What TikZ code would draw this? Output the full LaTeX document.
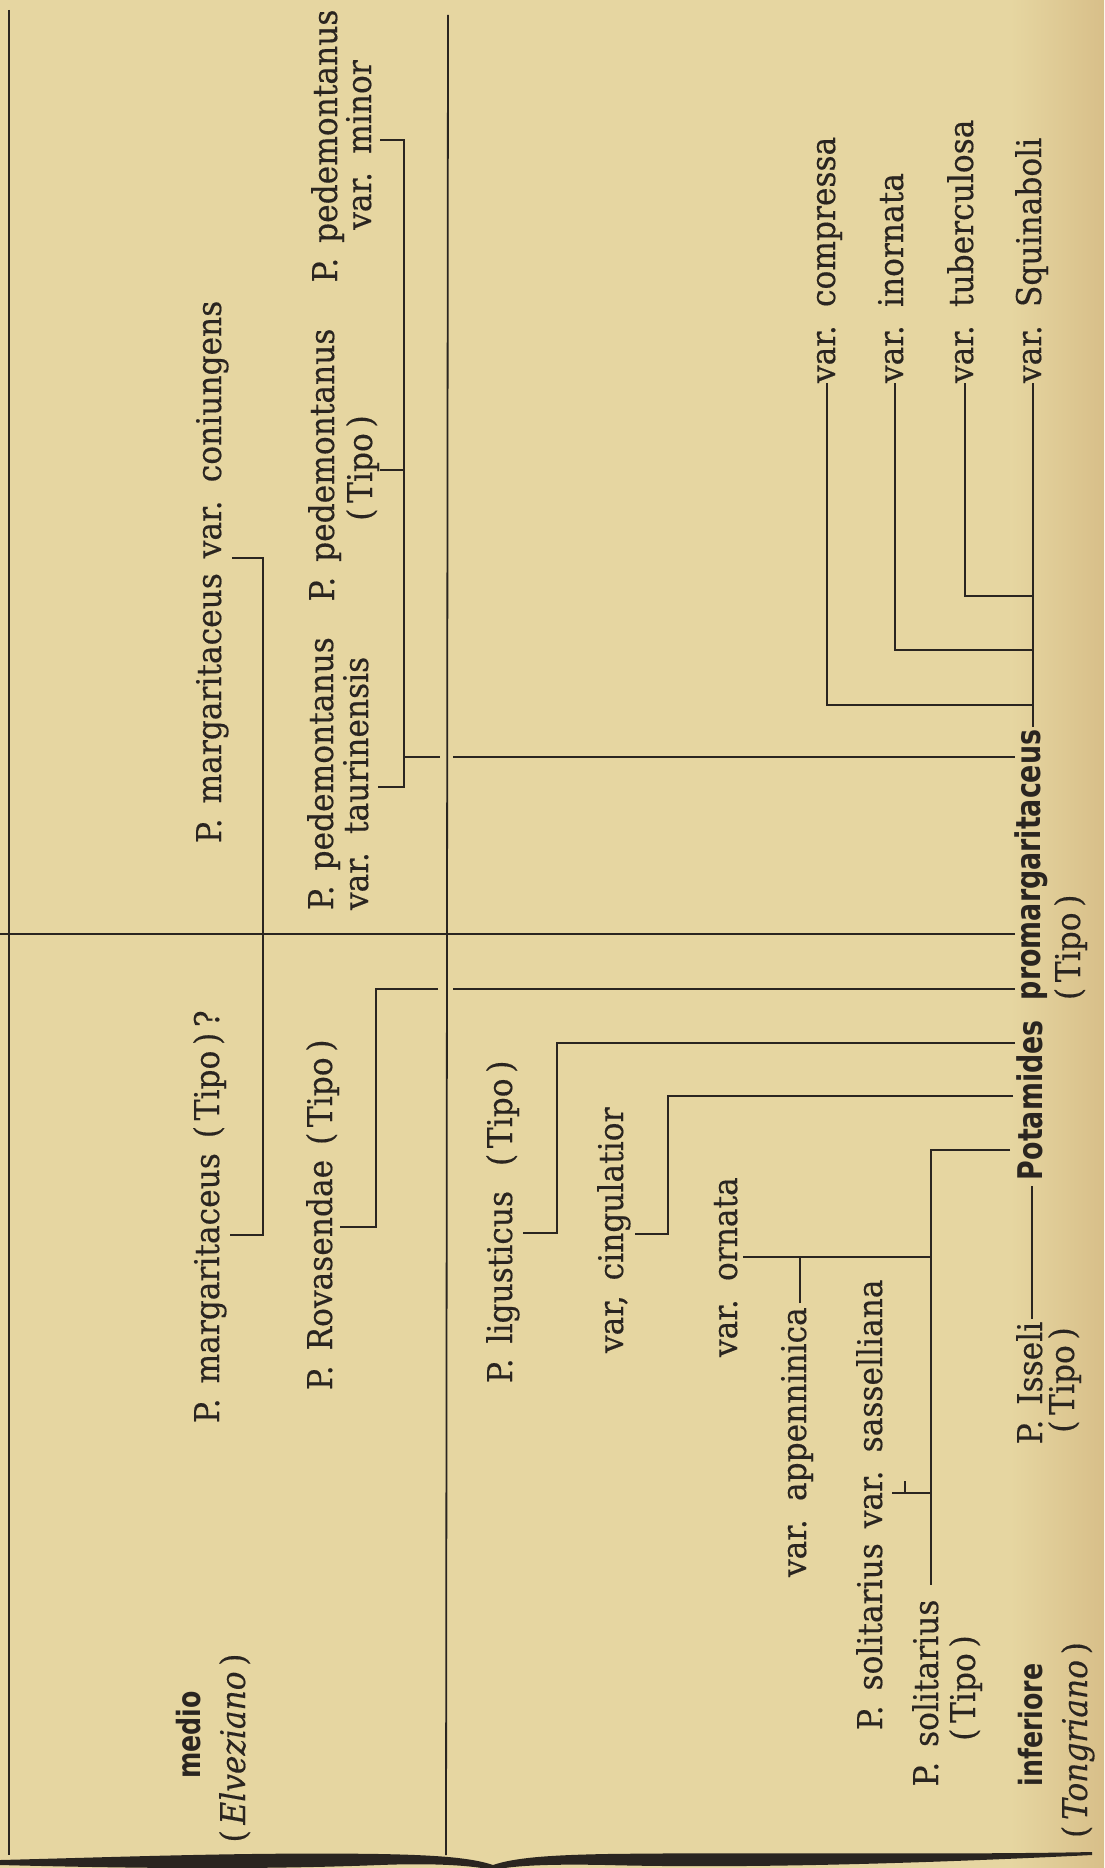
\documentclass[tikz,border=0pt]{standalone}
\usepackage{fontspec}
\setmainfont{DejaVu Serif}[FakeStretch=0.92, WordSpace=1.5, FakeBold=0.35]
\newfontfamily\boldsans{DejaVu Sans}[FakeStretch=0.79]
\usetikzlibrary{calc}
\definecolor{bgc}{HTML}{E6D6A1}
\definecolor{bgd}{HTML}{D8BF89}
\definecolor{ink}{HTML}{2A2520}
\tikzset{
  lbl/.style={rotate=90, inner sep=0pt, outer sep=0pt, text=ink, font=\fontsize{17}{20}\selectfont},
  bld/.style={lbl, font=\boldsans\bfseries\fontsize{17}{20}\selectfont},
  bldsm/.style={lbl, font=\boldsans\bfseries\fontsize{16}{19}\selectfont},
  ln/.style={draw=ink, line width=0.9pt},
}
\begin{document}
\begin{tikzpicture}[x=0.5pt,y=-0.5pt]
\useasboundingbox (0,0) rectangle (1104,1868);
\fill[bgc] (0,0) rectangle (1104,1868);
\shade[left color=bgc, right color=bgd] (1010,0) rectangle (1104,1868);

% ---- labels ----
\node[lbl, anchor=base west] (coni) at (221,843) {P. margaritaceus var. coniungens};
\node[lbl, anchor=base west] (margT) at (219,1423) {P. margaritaceus (\,Tipo\,)\,?};
\node[lbl, anchor=base west] (rova) at (332,1390) {P. Rovasendae (\,Tipo\,)};
\node[lbl, anchor=base west] (pedT1) at (333,910) {P. pedemontanus};
\node[lbl, anchor=base west] (pedT2) at (368,910) {var. taurinensis};
\node[lbl, anchor=base] (pedP1) at (334,465) {P. pedemontanus};
\node[lbl, anchor=base] (pedP2) at (372,468) {(\,Tipo\,)};
\node[lbl, anchor=base] (pedM1) at (337,146) {P. pedemontanus};
\node[lbl, anchor=base] (pedM2) at (371,145) {var. minor};
\node[lbl, anchor=base west] (ligu) at (512,1383) {P. ligusticus\hspace{5pt} (\,Tipo\,)};
\node[lbl, anchor=base west] (cing) at (623,1353) {var, cingulatior};
\node[lbl, anchor=base west] (orna) at (737,1357) {var. ornata};
\node[lbl, anchor=base west] (appe) at (806,1577) {var. appenninica};
\node[lbl, anchor=base west] (sass) at (882,1730) {P. solitarius var. sasselliana};
\node[lbl, anchor=base] (soli1) at (938,1693) {P. solitarius};
\node[lbl, anchor=base] (soli2) at (975,1688) {(\,Tipo\,)};
\node[lbl, anchor=base] (isse1) at (1042,1383) {P. Isseli};
\node[lbl, anchor=base] (isse2) at (1074,1380) {(\,Tipo\,)};
\node[bld, anchor=base west] (pota) at (1042,1180) {Potamides};
\node[bld, anchor=base west] (prom) at (1040,1000) {promargaritaceus};
\node[lbl, anchor=base west] (promT) at (1080,1000) {(\,Tipo\,)};
\node[lbl, anchor=base west] (comp) at (835,383) {var. compressa};
\node[lbl, anchor=base west] (inor) at (903,383) {var. inornata};
\node[lbl, anchor=base west] (tube) at (973,383) {var. tuberculosa};
\node[lbl, anchor=base west] (squi) at (1041,383) {var. Squinaboli};
\node[bldsm, anchor=base] (medio) at (200,1735) {medio};
\node[lbl, anchor=base] (elve) at (245,1748) {(\,\textit{Elveziano}\,)};
\node[bldsm, anchor=base] (infe) at (1042,1725) {inferiore};
\node[lbl, anchor=base] (tong) at (1087,1740) {(\,\textit{Tongriano}\,)};

% ---- rules ----
\coordinate (bdT) at (9,10);   \coordinate (bdB) at (9,1855);
\coordinate (l2T) at (448,15); \coordinate (l2B) at (446,1855);
\draw[ln] (bdT) -- (bdB);
\draw[ln] (l2T) -- (l2B);
\coordinate (h1L) at (0,934);  \coordinate (h1R) at (1015,934);
\draw[ln] (h1L) -- (h1R);

% margaritaceus bracket
\coordinate (mgTopT) at (232,558); \coordinate (mgTop) at (263,558);
\coordinate (mgBot) at (263,1235); \coordinate (mgBotT) at (230,1235);
\draw[ln] (mgTopT) -- (mgTop) -- (mgBot) -- (mgBotT);

% pedemontanus bracket
\coordinate (pbTopT) at (380,140); \coordinate (pbTop) at (404,140);
\coordinate (pbMidT) at (380,470); \coordinate (pbMid) at (404,470);
\coordinate (pbBot) at (404,787);  \coordinate (pbBotT) at (378,787);
\coordinate (pbJ) at (404,757); \coordinate (pbJa) at (440,757);
\coordinate (pbJb) at (453,757); \coordinate (pbR) at (1015,757);
\draw[ln] (pbTopT) -- (pbTop) -- (pbBot) -- (pbBotT);
\draw[ln] (pbMidT) -- (pbMid);
\draw[ln] (pbJ) -- (pbJa);
\draw[ln] (pbJb) -- (pbR);

% Rovasendae bracket
\coordinate (rbTop) at (376,989); \coordinate (rbBot) at (376,1227);
\coordinate (rbBotT) at (340,1227); \coordinate (rbJa) at (438,989);
\coordinate (rbJb) at (453,989); \coordinate (rbR) at (1015,989);
\draw[ln] (rbJa) -- (rbTop) -- (rbBot) -- (rbBotT);
\draw[ln] (rbJb) -- (rbR);

% ligusticus bracket
\coordinate (lbR) at (1015,1043); \coordinate (lbTop) at (557,1043);
\coordinate (lbBot) at (557,1233); \coordinate (lbBotT) at (523,1233);
\draw[ln] (lbR) -- (lbTop) -- (lbBot) -- (lbBotT);

% cingulatior bracket
\coordinate (cbR) at (1013,1096); \coordinate (cbTop) at (668,1096);
\coordinate (cbBot) at (668,1234); \coordinate (cbBotT) at (635,1234);
\draw[ln] (cbR) -- (cbTop) -- (cbBot) -- (cbBotT);

% solitarius stem
\coordinate (sbR) at (1010,1150); \coordinate (sbTop) at (931,1150);
\draw[ln] (sbR) -- (sbTop) -- ($(soli1.base east)+(-7,-15)$);
\coordinate (ssA) at (892,1493); \coordinate (ssB) at (931,1493);
\coordinate (ssT) at (905,1481); \coordinate (ssU) at (905,1493);
\draw[ln] (ssA) -- (ssB);
\draw[ln] (ssT) -- (ssU);

% ornata / appenninica
\coordinate (obL) at (743,1257); \coordinate (obR) at (931,1257);
\coordinate (apJ) at (800,1257);
\draw[ln] (obL) -- (obR);
\draw[ln] ($(appe.base east)+(-6,-4)$) -- (apJ);

% Isseli -> Potamides
\draw[ln] ($(isse1.base east)+(-10,-3)$) -- ($(pota.base west)+(-10,6)$);

% promargaritaceus stem and branches
\draw[ln] ($(prom.base east)+(-7,-3)$) -- ($(squi.base west)+(-8,0)$);
\coordinate (cpC) at (827,705); \coordinate (cpR) at (1033,705);
\coordinate (inC) at (895,650); \coordinate (inR) at (1033,650);
\coordinate (tuC) at (965,596); \coordinate (tuR) at (1033,596);
\draw[ln] ($(comp.base west)+(-8,0)$) -- (cpC) -- (cpR);
\draw[ln] ($(inor.base west)+(-8,0)$) -- (inC) -- (inR);
\draw[ln] ($(tube.base west)+(-8,0)$) -- (tuC) -- (tuR);

% brace
\fill[ink] (0,1860) .. controls (120,1857) and (250,1852) .. (380,1854)
  .. controls (430,1855) and (470,1857) .. (493,1865)
  -- (493,1870)
  .. controls (470,1865) and (430,1863) .. (380,1865)
  .. controls (250,1870) and (120,1868) .. (0,1865) -- cycle;
\fill[ink] (493,1865) .. controls (516,1857) and (556,1855) .. (606,1854)
  .. controls (760,1852) and (950,1855) .. (1092,1852)
  -- (1092,1855)
  .. controls (950,1862) and (760,1869) .. (606,1865)
  .. controls (556,1864) and (516,1865) .. (493,1870) -- cycle;
\end{tikzpicture}
\end{document}
